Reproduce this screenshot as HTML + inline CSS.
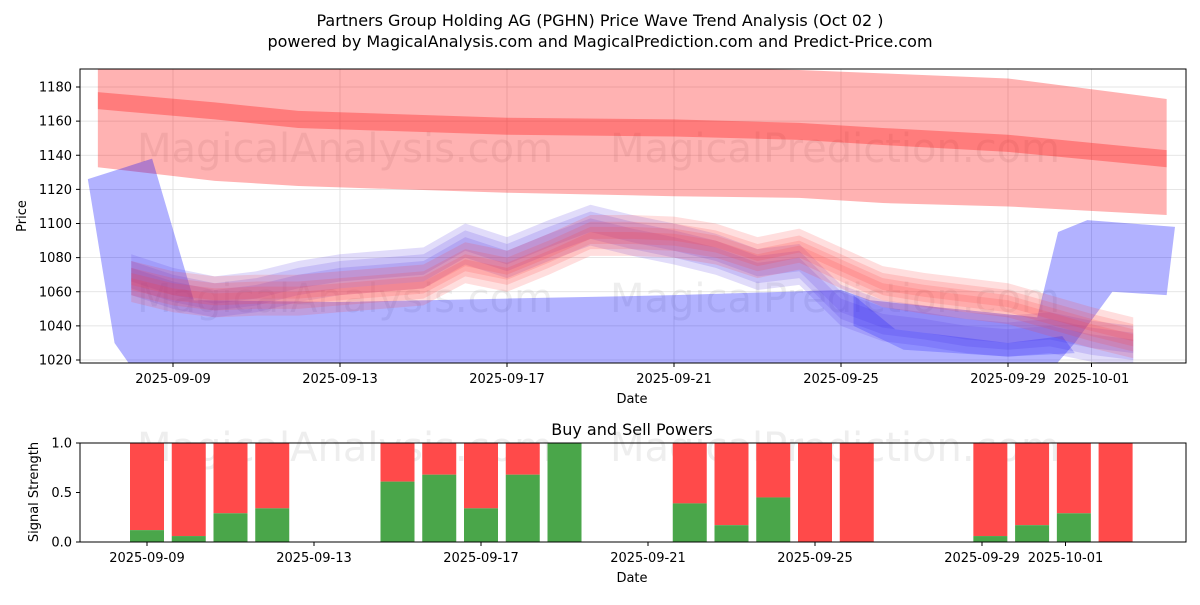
<!DOCTYPE html>
<html><head><meta charset="utf-8"><style>
body{margin:0;background:#fff;font-family:"Liberation Sans","DejaVu Sans",sans-serif}
svg text{font-family:"DejaVu Sans","Liberation Sans",sans-serif}
</style></head><body>
<svg id="c" width="1200" height="600" xmlns="http://www.w3.org/2000/svg">
<rect width="1200" height="600" fill="#fff"/>
<text x="600" y="26" text-anchor="middle" font-size="16">Partners Group Holding AG (PGHN) Price Wave Trend Analysis (Oct 02 )</text>
<text x="600" y="47" text-anchor="middle" font-size="16">powered by MagicalAnalysis.com and MagicalPrediction.com and Predict-Price.com</text>
<defs>
<clipPath id="topclip"><rect x="80" y="69" width="1106" height="294"/></clipPath>
</defs>
<g id="topg" clip-path="url(#topclip)"></g>
<g id="topaxis"></g>
<g id="bot"></g>
</svg>
<script>
const ns="http://www.w3.org/2000/svg";
// ---- data ----
const yTicks=[1020,1040,1060,1080,1100,1120,1140,1160,1180];
const xTickLabels=["2025-09-09","2025-09-13","2025-09-17","2025-09-21","2025-09-25","2025-09-29","2025-10-01"];
const xTickDays=[0,4,8,12,16,20,22];
const lineDays=[-1,0,1,2,3,4,5,6,7,8,9,10,11,12,13,14,15,16,17,18,19,20,21,22,23];
const redMid=[1066,1060,1057,1058,1058,1060,1062,1064,1077,1072,1082,1093,1093,1092,1088,1080,1085,1074,1063,1059,1056,1053,1046,1039,1033];
const blueMid=[1070,1062,1057,1060,1066,1070,1072,1074,1088,1080,1090,1099,1093,1088,1082,1073,1076,1052,1043,1040,1036,1034,1036,1031,1028];
const trendDays=[-1.8,1,3,8,12,15,17,20,23.8];
const trendTop=[1195,1193,1192,1191,1191,1190,1188,1185,1173];
const trendBot=[1133,1125,1122,1118,1116,1115,1112,1110,1105];
const trendMid=[1172,1166,1161,1157,1156,1154,1151,1147,1138];
const blueBandDays=[-2.04,-0.5,0.5,4,8,12,16,16.7,20.7,21.2,21.9,24];
const blueBandTop=[1126,1138,1055,1054,1056,1058,1061,1055,1045,1095,1102,1098];
const blueBandBotDays=[23.8,22.5,21.6,21.1,-1.0,-1.4];
const blueBandBot=[1058,1060,1030,1016,1016,1030];
const barDates=[0,1,2,3,6,7,8,9,10,13,14,15,16,17,20.2,21.2,22.2,23.2];
const buyVals=[0.12,0.06,0.29,0.34,0.61,0.68,0.34,0.68,1.0,0.39,0.17,0.45,0,0,0.06,0.17,0.29,0];
const botTickLabels=["2025-09-09","2025-09-13","2025-09-17","2025-09-21","2025-09-25","2025-09-29","2025-10-01"];
const botTickDays=[0,4,8,12,16,20,22];
// ---- scales ----
const xT=d=>173+41.75*d;
const yT=p=>360-(p-1020)*1.70625;
const xB=d=>147+41.75*d;
const yB=v=>542-v*99;
function el(tag,attrs,parent){const e=document.createElementNS(ns,tag);for(const k in attrs)e.setAttribute(k,attrs[k]);parent.appendChild(e);return e;}
const topG=document.getElementById('topg'),ta=document.getElementById('topaxis'),bot=document.getElementById('bot');
yTicks.forEach(t=>{const g=el('line',{x1:80,x2:1186,y1:yT(t),y2:yT(t),stroke:'#ddd','stroke-width':0.8},topG);

});
xTickDays.forEach(d=>{const g=el('line',{x1:xT(d),x2:xT(d),y1:69,y2:363,stroke:'#ddd','stroke-width':0.8},topG);

});
[[345,148,"MagicalAnalysis.com"],[835,148,"MagicalPrediction.com"],[345,298,"MagicalAnalysis.com"],[835,298,"MagicalPrediction.com"]].forEach(w=>{const t=el('text',{x:w[0],y:w[1]+14,'text-anchor':'middle','font-size':40,fill:'rgba(140,140,140,0.15)'},topG);t.textContent=w[2];

});
let pts=trendDays.map((d,i)=>xT(d)+','+yT(trendTop[i]));
for(let i=trendDays.length-1;i>=0;i--)pts.push(xT(trendDays[i])+','+yT(trendBot[i]));
let p=el('polygon',{points:pts.join(' '),fill:'rgba(255,0,0,0.3)'},topG);


pts=trendDays.map((d,i)=>xT(d)+','+yT(trendMid[i]+5));
for(let i=trendDays.length-1;i>=0;i--)pts.push(xT(trendDays[i])+','+yT(trendMid[i]-5));
p=el('polygon',{points:pts.join(' '),fill:'rgba(255,0,0,0.3)'},topG);


pts=blueBandDays.map((d,i)=>xT(d)+','+yT(blueBandTop[i]));
blueBandBotDays.forEach((d,i)=>pts.push(xT(d)+','+yT(blueBandBot[i])));
p=el('polygon',{points:pts.join(' '),fill:'rgba(0,0,255,0.3)','stroke-linejoin':'round'},topG);


function band(mid,spreads,color,name){spreads.forEach(s=>{let a=lineDays.map((d,i)=>xT(d)+','+yT(mid[i]+s));
for(let i=lineDays.length-1;i>=0;i--)a.push(xT(lineDays[i])+','+yT(mid[i]-s));
const q=el('polygon',{points:a.join(' '),fill:color},topG);

});}
band(blueMid,[12,8,4],'rgba(90,60,230,0.18)','blue-wave-band');
band(redMid,[12,8,5,2],'rgba(255,60,60,0.17)','red-wave-band');
pts=[[16.3,1058],[17.3,1038],[20,1030],[21.3,1034],[21.6,1024],[20,1022],[17.5,1026],[16.3,1040]].map(q=>xT(q[0])+','+yT(q[1]));
p=el('polygon',{points:pts.join(' '),fill:'rgba(0,0,255,0.2)'},topG);


el('rect',{x:80,y:69,width:1106,height:294,fill:'none',stroke:'#000','stroke-width':1},ta);
yTicks.forEach(t=>{el('line',{x1:76,x2:80,y1:yT(t),y2:yT(t),stroke:'#000'},ta);
const tx=el('text',{x:72,y:yT(t)+4.5,'text-anchor':'end','font-size':13},ta);tx.textContent=t;

});
xTickDays.forEach((d,i)=>{el('line',{x1:xT(d),x2:xT(d),y1:363,y2:367,stroke:'#000'},ta);
const tx=el('text',{x:xT(d),y:383,'text-anchor':'middle','font-size':13},ta);tx.textContent=xTickLabels[i];

});
let t=el('text',{x:632,y:403,'text-anchor':'middle','font-size':13},ta);t.textContent='Date';


t=el('text',{x:26,y:216,'text-anchor':'middle','font-size':13,transform:'rotate(-90 26 216)'},ta);t.textContent='Price';


t=el('text',{x:632,y:435,'text-anchor':'middle','font-size':16},bot);t.textContent='Buy and Sell Powers';


[[345,447,"MagicalAnalysis.com"],[835,447,"MagicalPrediction.com"]].forEach(w=>{const x=el('text',{x:w[0],y:w[1]+14,'text-anchor':'middle','font-size':40,fill:'rgba(140,140,140,0.15)'},bot);x.textContent=w[2];

});
barDates.forEach((d,i)=>{const x=xB(d)-17;
const r=el('rect',{x:x,y:yB(1),width:34,height:yB(buyVals[i])-yB(1),fill:'#ff4a4a'},bot);


const g=el('rect',{x:x,y:yB(buyVals[i]),width:34,height:542-yB(buyVals[i]),fill:'#4aa64a'},bot);

});
el('rect',{x:80,y:443,width:1106,height:99,fill:'none',stroke:'#000'},bot);
[0,0.5,1].forEach(v=>{el('line',{x1:76,x2:80,y1:yB(v),y2:yB(v),stroke:'#000'},bot);
const tx=el('text',{x:72,y:yB(v)+4.5,'text-anchor':'end','font-size':13},bot);tx.textContent=v.toFixed(1);

});
botTickDays.forEach((d,i)=>{el('line',{x1:xB(d),x2:xB(d),y1:542,y2:546,stroke:'#000'},bot);
const tx=el('text',{x:xB(d),y:562,'text-anchor':'middle','font-size':13},bot);tx.textContent=botTickLabels[i];

});
t=el('text',{x:632,y:582,'text-anchor':'middle','font-size':13},bot);t.textContent='Date';


t=el('text',{x:38,y:492,'text-anchor':'middle','font-size':13,transform:'rotate(-90 38 492)'},bot);t.textContent='Signal Strength';


</script>
</body></html>
